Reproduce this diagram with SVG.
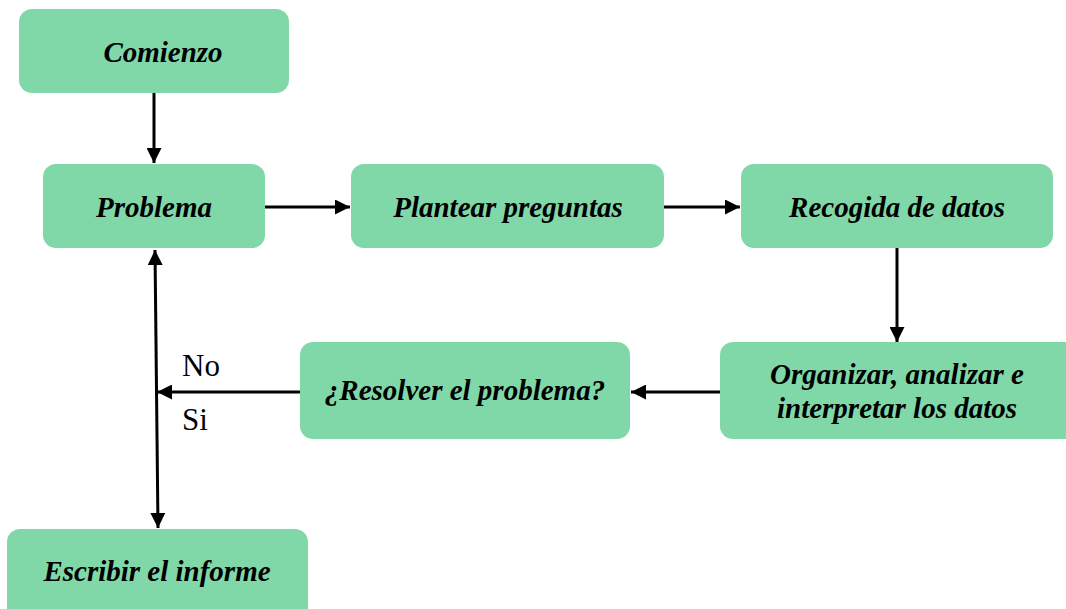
<svg xmlns="http://www.w3.org/2000/svg" width="1066" height="609" viewBox="0 0 1066 609">
<style>
.box{fill:#80d8a8}
.t{font-family:'Liberation Serif','Times New Roman','DejaVu Serif',serif;font-weight:bold;font-style:italic;font-size:29px;fill:#000;text-anchor:middle}
.lbl{font-family:'Liberation Serif','Times New Roman','DejaVu Serif',serif;font-size:31px;fill:#000}
.c{stroke:#000;stroke-width:3;fill:none}
</style>
<defs>
<marker id="ah" viewBox="0 0 10 10" refX="10" refY="5" markerWidth="5" markerHeight="5" orient="auto-start-reverse" markerUnits="strokeWidth">
<path d="M0,0 L10,5 L0,10 z" fill="#000"/>
</marker>
</defs>
<rect width="1066" height="609" fill="#fff"/>
<g id="connectors">
<line class="c" x1="154" y1="93" x2="154" y2="163" marker-end="url(#ah)"/>
<line class="c" x1="265" y1="207" x2="350" y2="207" marker-end="url(#ah)"/>
<line class="c" x1="664" y1="207" x2="740" y2="207" marker-end="url(#ah)"/>
<line class="c" x1="897" y1="248" x2="897" y2="342" marker-end="url(#ah)"/>
<line class="c" x1="720" y1="392" x2="631" y2="392" marker-end="url(#ah)"/>
<line class="c" x1="300" y1="392" x2="157" y2="392" marker-end="url(#ah)"/>
<line class="c" x1="155" y1="250" x2="158" y2="528" marker-start="url(#ah)" marker-end="url(#ah)"/>
<text class="lbl" x="182" y="376">No</text>
<text class="lbl" x="182" y="430">Si</text>
</g>
<g id="n-comienzo"><rect class="box" x="19" y="9" width="270" height="84" rx="13"/><text class="t" x="163" y="62">Comienzo</text></g>
<g id="n-problema"><rect class="box" x="43" y="164" width="222" height="84" rx="13"/><text class="t" x="154" y="217">Problema</text></g>
<g id="n-plantear"><rect class="box" x="351" y="164" width="313" height="84" rx="13"/><text class="t" x="508" y="217">Plantear preguntas</text></g>
<g id="n-recogida"><rect class="box" x="741" y="164" width="312" height="84" rx="13"/><text class="t" x="897" y="217">Recogida de datos</text></g>
<g id="n-organizar"><rect class="box" x="720" y="342" width="360" height="97" rx="13"/><text class="t" x="897" y="384">Organizar, analizar e</text><text class="t" x="897" y="418">interpretar los datos</text></g>
<g id="n-resolver"><rect class="box" x="300" y="342" width="330" height="97" rx="13"/><text class="t" x="465" y="400">¿Resolver el problema?</text></g>
<g id="n-escribir"><rect class="box" x="7" y="529" width="301" height="95" rx="13"/><text class="t" x="157" y="581">Escribir el informe</text></g>
</svg>
